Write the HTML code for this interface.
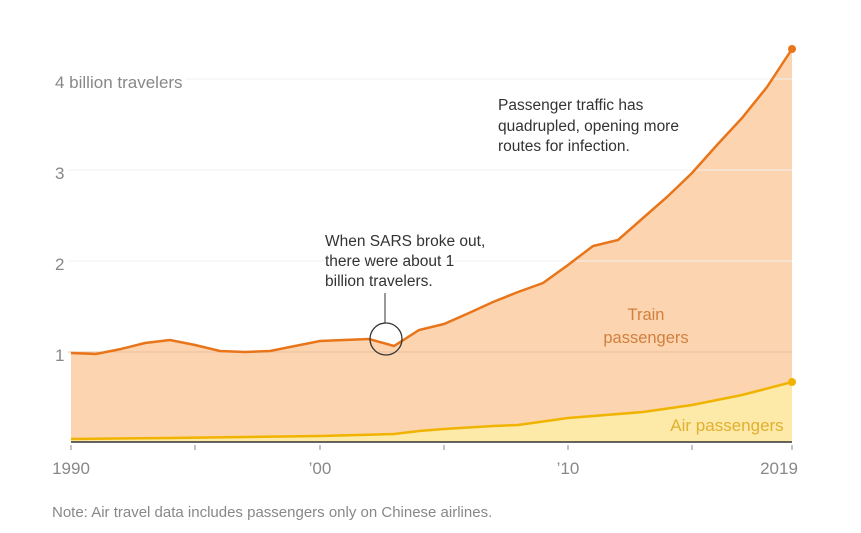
<!DOCTYPE html>
<html><head><meta charset="utf-8"><style>
body{margin:0;background:#fff;width:861px;height:528px;overflow:hidden;font-family:"Liberation Sans",sans-serif}
</style></head><body>
<svg width="861" height="528" xmlns="http://www.w3.org/2000/svg" font-family="Liberation Sans, sans-serif">
<polygon fill="#fdd4b0" points="71,442 71,353 96,354 121,349 145,343 170,340 195,345 220,351 245,352 270,351 295,346 320,341 344,340 369,339 394,346 419,330 444,324 469,313 493,302 518,292 543,283 568,265 593,246 618,240 643,218 667,197 692,173 717,145 742,118 767,87 792,49 792,442"/>
<polygon fill="#fde9a8" points="71,442 71,439 170,438 320,436 394,434 419,431 444,429 493,426 518,425 568,418 643,412 692,405 742,395 792,382 792,442"/>
<g stroke-width="1">
<line x1="186" y1="79" x2="792" y2="79" stroke="#f0f0f0"/><line x1="68" y1="170" x2="792" y2="170" stroke="#f0f0f0"/>
<line x1="68" y1="261" x2="792" y2="261" stroke="#f0f0f0"/>
<line x1="68" y1="352" x2="792" y2="352" stroke="#e6c0a0"/>
</g>
<polyline fill="none" stroke="#f0b400" stroke-width="2.5" points="71,439 170,438 320,436 394,434 419,431 444,429 493,426 518,425 568,418 643,412 692,405 742,395 792,382"/>
<polyline fill="none" stroke="#e8751a" stroke-width="2.5" points="71,353 96,354 121,349 145,343 170,340 195,345 220,351 245,352 270,351 295,346 320,341 344,340 369,339 394,346 419,330 444,324 469,313 493,302 518,292 543,283 568,265 593,246 618,240 643,218 667,197 692,173 717,145 742,118 767,87 792,49"/>
<circle cx="792" cy="49" r="4" fill="#e8751a"/><circle cx="792" cy="382" r="4" fill="#f0b400"/>
<line x1="71" y1="442" x2="792" y2="442" stroke="#333" stroke-width="1.5"/>
<g stroke="#888"><line x1="71" y1="445" x2="71" y2="450"/><line x1="195" y1="445" x2="195" y2="450"/><line x1="320" y1="445" x2="320" y2="450"/><line x1="444" y1="445" x2="444" y2="450"/><line x1="568" y1="445" x2="568" y2="450"/><line x1="692" y1="445" x2="692" y2="450"/><line x1="792" y1="445" x2="792" y2="450"/></g>
<g fill="#888" font-size="17">
<text x="55" y="88">4 billion travelers</text>
<text x="55" y="179">3</text><text x="55" y="270">2</text><text x="55" y="361">1</text>
<text x="71" y="474" text-anchor="middle">1990</text>
<text x="320" y="474" text-anchor="middle">’00</text>
<text x="568" y="474" text-anchor="middle">’10</text>
<text x="779" y="474" text-anchor="middle">2019</text>
</g>
<g fill="#d08040" font-size="16.5" text-anchor="middle"><text x="646" y="320">Train</text><text x="646" y="343">passengers</text></g>
<text x="727" y="431" fill="#e0b030" font-size="17" text-anchor="middle">Air passengers</text>
<g fill="#333" font-size="15.5">
<text x="498" y="110">Passenger traffic has</text>
<text x="498" y="131">quadrupled, opening more</text>
<text x="498" y="151">routes for infection.</text>
<text x="325" y="246">When SARS broke out,</text>
<text x="325" y="266">there were about 1</text>
<text x="325" y="286">billion travelers.</text>
</g>
<line x1="385" y1="293" x2="385" y2="323" stroke="#333"/>
<circle cx="386" cy="339" r="16" fill="none" stroke="#333" stroke-width="1.3"/>
<text x="52" y="517" fill="#888" font-size="15">Note: Air travel data includes passengers only on Chinese airlines.</text>
</svg>
</body></html>
